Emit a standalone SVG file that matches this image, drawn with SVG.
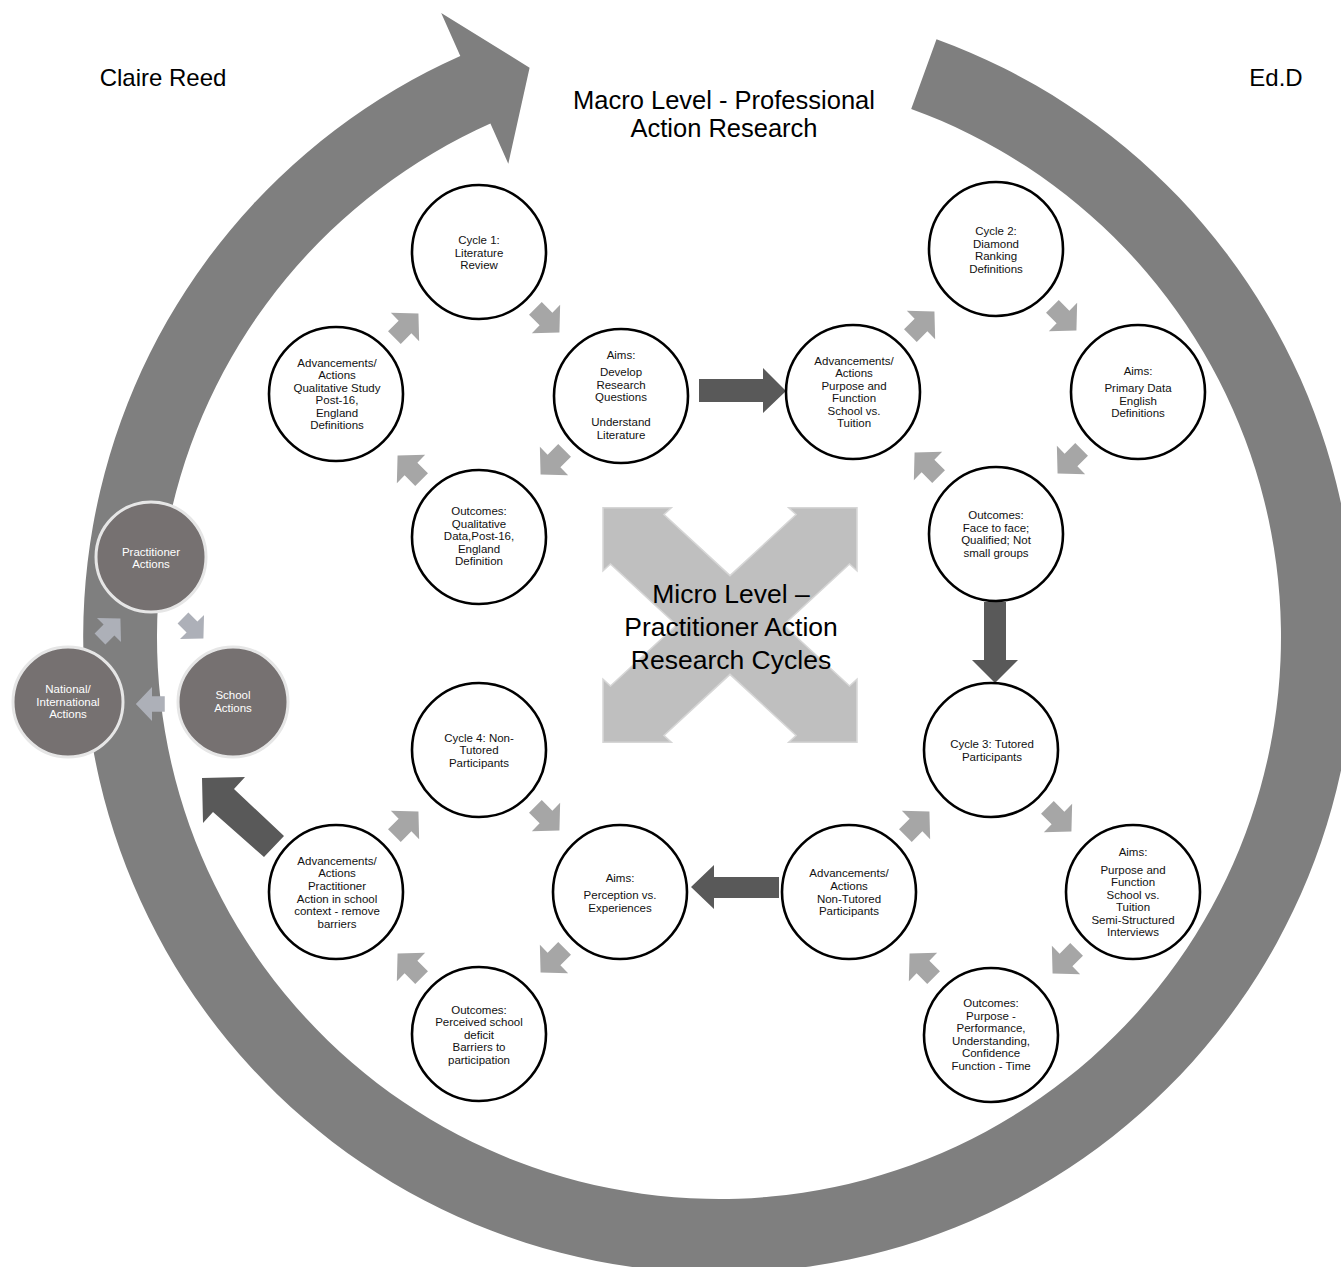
<svg xmlns="http://www.w3.org/2000/svg" xmlns:xlink="http://www.w3.org/1999/xlink" width="1341" height="1267" viewBox="0 0 1341 1267">
<defs>
<style>
.node{fill:#fff;stroke:#000;stroke-width:2.6}
.t{font-family:"Liberation Sans",Arial,sans-serif;font-size:11.5px;fill:#111;text-anchor:middle}
.st{font-family:"Liberation Sans",Arial,sans-serif;font-size:11.5px;fill:#fff;text-anchor:middle}
.small{fill:#767171;stroke:#e6e6e6;stroke-width:3}
.big{font-family:"Liberation Sans",Arial,sans-serif;font-size:26.5px;fill:#000;text-anchor:middle}
.macro{font-family:"Liberation Sans",Arial,sans-serif;font-size:25.5px;fill:#000;text-anchor:middle}
.corner{font-family:"Liberation Sans",Arial,sans-serif;font-size:24px;fill:#000;text-anchor:middle}
.sa{fill:#a6a6a6}
.sb{fill:#adb0b8}
.dark{fill:#595959}
</style>
<path id="sarrow" d="M-15,-9 L0,-9 L0,-20 L19,0 L0,20 L0,9 L-15,9 Z"/>
</defs>
<rect width="1341" height="1267" fill="#fff"/>

<g id="macro-arc">
<path fill="#7f7f7f" d="M936.5,39.2 A636,636 0 1 1 460.3,56.0 L441.2,13.1 L529.6,67.7 L508.3,163.8 L490.4,123.6 A562,562 0 1 0 911.2,108.9 Z"/>
</g>

<g id="micro-x">
<polygon transform="translate(730,625) scale(1.05,0.97) rotate(45)" fill="#bfbfbf" stroke="#d6d6d6" stroke-width="1.5" points="36,-36 125,-36 125,-46 171,0 125,46 125,36 36,36 36,125 46,125 0,171 -46,125 -36,125 -36,36 -125,36 -125,46 -171,0 -125,-46 -125,-36 -36,-36 -36,-125 -46,-125 0,-171 46,-125 36,-125"/>
</g>

<g id="labels">
<text class="corner" x="163" y="86">Claire Reed</text>
<text class="corner" x="1276" y="86">Ed.D</text>
<text class="macro" x="724" y="109">Macro Level - Professional</text>
<text class="macro" x="724" y="137">Action Research</text>
<text class="big" x="731" y="603">Micro Level –</text>
<text class="big" x="731" y="636">Practitioner Action</text>
<text class="big" x="731" y="669">Research Cycles</text>
</g>

<g id="connectors">
<!-- cycle 1 -->
<use href="#sarrow" class="sa" transform="translate(546,319) rotate(45)"/>
<use href="#sarrow" class="sa" transform="translate(554,461) rotate(135)"/>
<use href="#sarrow" class="sa" transform="translate(411,469) rotate(225)"/>
<use href="#sarrow" class="sa" transform="translate(405,327) rotate(-45)"/>
<!-- cycle 2 -->
<use href="#sarrow" class="sa" transform="translate(1063,317) rotate(45)"/>
<use href="#sarrow" class="sa" transform="translate(1071,460) rotate(135)"/>
<use href="#sarrow" class="sa" transform="translate(928,466) rotate(225)"/>
<use href="#sarrow" class="sa" transform="translate(921,325) rotate(-45)"/>
<!-- cycle 3 -->
<use href="#sarrow" class="sa" transform="translate(1058,818) rotate(45)"/>
<use href="#sarrow" class="sa" transform="translate(1066,960) rotate(135)"/>
<use href="#sarrow" class="sa" transform="translate(923,967) rotate(225)"/>
<use href="#sarrow" class="sa" transform="translate(916,825) rotate(-45)"/>
<!-- cycle 4 -->
<use href="#sarrow" class="sa" transform="translate(546,817) rotate(45)"/>
<use href="#sarrow" class="sa" transform="translate(554,959) rotate(135)"/>
<use href="#sarrow" class="sa" transform="translate(411,967) rotate(225)"/>
<use href="#sarrow" class="sa" transform="translate(405,825) rotate(-45)"/>
<!-- small left cycle -->
<use href="#sarrow" class="sb" transform="translate(109,630) rotate(-45) scale(0.85)"/>
<use href="#sarrow" class="sb" transform="translate(192,627) rotate(45) scale(0.85)"/>
<use href="#sarrow" class="sb" transform="translate(152,704) rotate(180) scale(0.85)"/>
<!-- dark transitions -->
<polygon class="dark" points="699,379 763,379 763,368 786,391 763,413 763,402 699,402"/>
<polygon class="dark" points="984,602 1006,602 1006,660 1018,660 995,683 972,660 984,660"/>
<polygon class="dark" points="779,877 714,877 714,865 691,887 714,909 714,898 779,898"/>
<polygon class="dark" points="202,778 245,777 234,789 284,836 264,857 213,812 203,823"/>
</g>

<g id="c1-cycle"><circle class="node" cx="479" cy="252" r="67"/>
<text class="t"><tspan x="479" y="244">Cycle 1:</tspan><tspan x="479" y="256.5">Literature</tspan><tspan x="479" y="269">Review</tspan></text></g>
<g id="c1-aims"><circle class="node" cx="621" cy="396" r="67"/>
<text class="t"><tspan x="621" y="359">Aims:</tspan><tspan x="621" y="376">Develop</tspan><tspan x="621" y="388.5">Research</tspan><tspan x="621" y="401">Questions</tspan><tspan x="621" y="426">Understand</tspan><tspan x="621" y="438.5">Literature</tspan></text></g>
<g id="c1-outcomes"><circle class="node" cx="479" cy="537" r="67"/>
<text class="t"><tspan x="479" y="515">Outcomes:</tspan><tspan x="479" y="528">Qualitative</tspan><tspan x="479" y="540">Data,Post-16,</tspan><tspan x="479" y="553">England</tspan><tspan x="479" y="565">Definition</tspan></text></g>
<g id="c1-advancements"><circle class="node" cx="336" cy="394" r="67"/>
<text class="t"><tspan x="337" y="367">Advancements/</tspan><tspan x="337" y="379">Actions</tspan><tspan x="337" y="392">Qualitative Study</tspan><tspan x="337" y="404">Post-16,</tspan><tspan x="337" y="417">England</tspan><tspan x="337" y="429">Definitions</tspan></text></g>

<g id="c2-cycle"><circle class="node" cx="996" cy="249" r="67"/>
<text class="t"><tspan x="996" y="235">Cycle 2:</tspan><tspan x="996" y="247.5">Diamond</tspan><tspan x="996" y="260">Ranking</tspan><tspan x="996" y="273">Definitions</tspan></text></g>
<g id="c2-aims"><circle class="node" cx="1138" cy="392" r="67"/>
<text class="t"><tspan x="1138" y="375">Aims:</tspan><tspan x="1138" y="392">Primary Data</tspan><tspan x="1138" y="404.5">English</tspan><tspan x="1138" y="417">Definitions</tspan></text></g>
<g id="c2-outcomes"><circle class="node" cx="996" cy="534" r="67"/>
<text class="t"><tspan x="996" y="519">Outcomes:</tspan><tspan x="996" y="532">Face to face;</tspan><tspan x="996" y="544">Qualified; Not</tspan><tspan x="996" y="557">small groups</tspan></text></g>
<g id="c2-advancements"><circle class="node" cx="853" cy="392" r="67"/>
<text class="t"><tspan x="854" y="365">Advancements/</tspan><tspan x="854" y="377">Actions</tspan><tspan x="854" y="390">Purpose and</tspan><tspan x="854" y="402">Function</tspan><tspan x="854" y="415">School vs.</tspan><tspan x="854" y="427">Tuition</tspan></text></g>

<g id="c3-cycle"><circle class="node" cx="991" cy="750" r="67"/>
<text class="t"><tspan x="992" y="748">Cycle 3: Tutored</tspan><tspan x="992" y="761">Participants</tspan></text></g>
<g id="c3-aims"><circle class="node" cx="1133" cy="892" r="67"/>
<text class="t"><tspan x="1133" y="856">Aims:</tspan><tspan x="1133" y="874">Purpose and</tspan><tspan x="1133" y="886">Function</tspan><tspan x="1133" y="899">School vs.</tspan><tspan x="1133" y="911">Tuition</tspan><tspan x="1133" y="924">Semi-Structured</tspan><tspan x="1133" y="936">Interviews</tspan></text></g>
<g id="c3-outcomes"><circle class="node" cx="991" cy="1035" r="67"/>
<text class="t"><tspan x="991" y="1007">Outcomes:</tspan><tspan x="991" y="1020">Purpose -</tspan><tspan x="991" y="1032">Performance,</tspan><tspan x="991" y="1045">Understanding,</tspan><tspan x="991" y="1057">Confidence</tspan><tspan x="991" y="1070">Function - Time</tspan></text></g>
<g id="c3-advancements"><circle class="node" cx="849" cy="892" r="67"/>
<text class="t"><tspan x="849" y="877">Advancements/</tspan><tspan x="849" y="890">Actions</tspan><tspan x="849" y="903">Non-Tutored</tspan><tspan x="849" y="915">Participants</tspan></text></g>

<g id="c4-cycle"><circle class="node" cx="479" cy="750" r="67"/>
<text class="t"><tspan x="479" y="742">Cycle 4: Non-</tspan><tspan x="479" y="754">Tutored</tspan><tspan x="479" y="767">Participants</tspan></text></g>
<g id="c4-aims"><circle class="node" cx="620" cy="892" r="67"/>
<text class="t"><tspan x="620" y="882">Aims:</tspan><tspan x="620" y="899">Perception vs.</tspan><tspan x="620" y="912">Experiences</tspan></text></g>
<g id="c4-outcomes"><circle class="node" cx="479" cy="1034" r="67"/>
<text class="t"><tspan x="479" y="1014">Outcomes:</tspan><tspan x="479" y="1026">Perceived school</tspan><tspan x="479" y="1039">deficit</tspan><tspan x="479" y="1051">Barriers to</tspan><tspan x="479" y="1064">participation</tspan></text></g>
<g id="c4-advancements"><circle class="node" cx="336" cy="892" r="67"/>
<text class="t"><tspan x="337" y="865">Advancements/</tspan><tspan x="337" y="877">Actions</tspan><tspan x="337" y="890">Practitioner</tspan><tspan x="337" y="903">Action in school</tspan><tspan x="337" y="915">context - remove</tspan><tspan x="337" y="928">barriers</tspan></text></g>

<g id="practitioner-actions"><circle class="small" cx="151" cy="557" r="55"/>
<text class="st"><tspan x="151" y="556">Practitioner</tspan><tspan x="151" y="568">Actions</tspan></text></g>
<g id="school-actions"><circle class="small" cx="233" cy="702" r="55"/>
<text class="st"><tspan x="233" y="699">School</tspan><tspan x="233" y="712">Actions</tspan></text></g>
<g id="national-actions"><circle class="small" cx="68" cy="702" r="55"/>
<text class="st"><tspan x="68" y="693">National/</tspan><tspan x="68" y="706">International</tspan><tspan x="68" y="718">Actions</tspan></text></g>
</svg>
